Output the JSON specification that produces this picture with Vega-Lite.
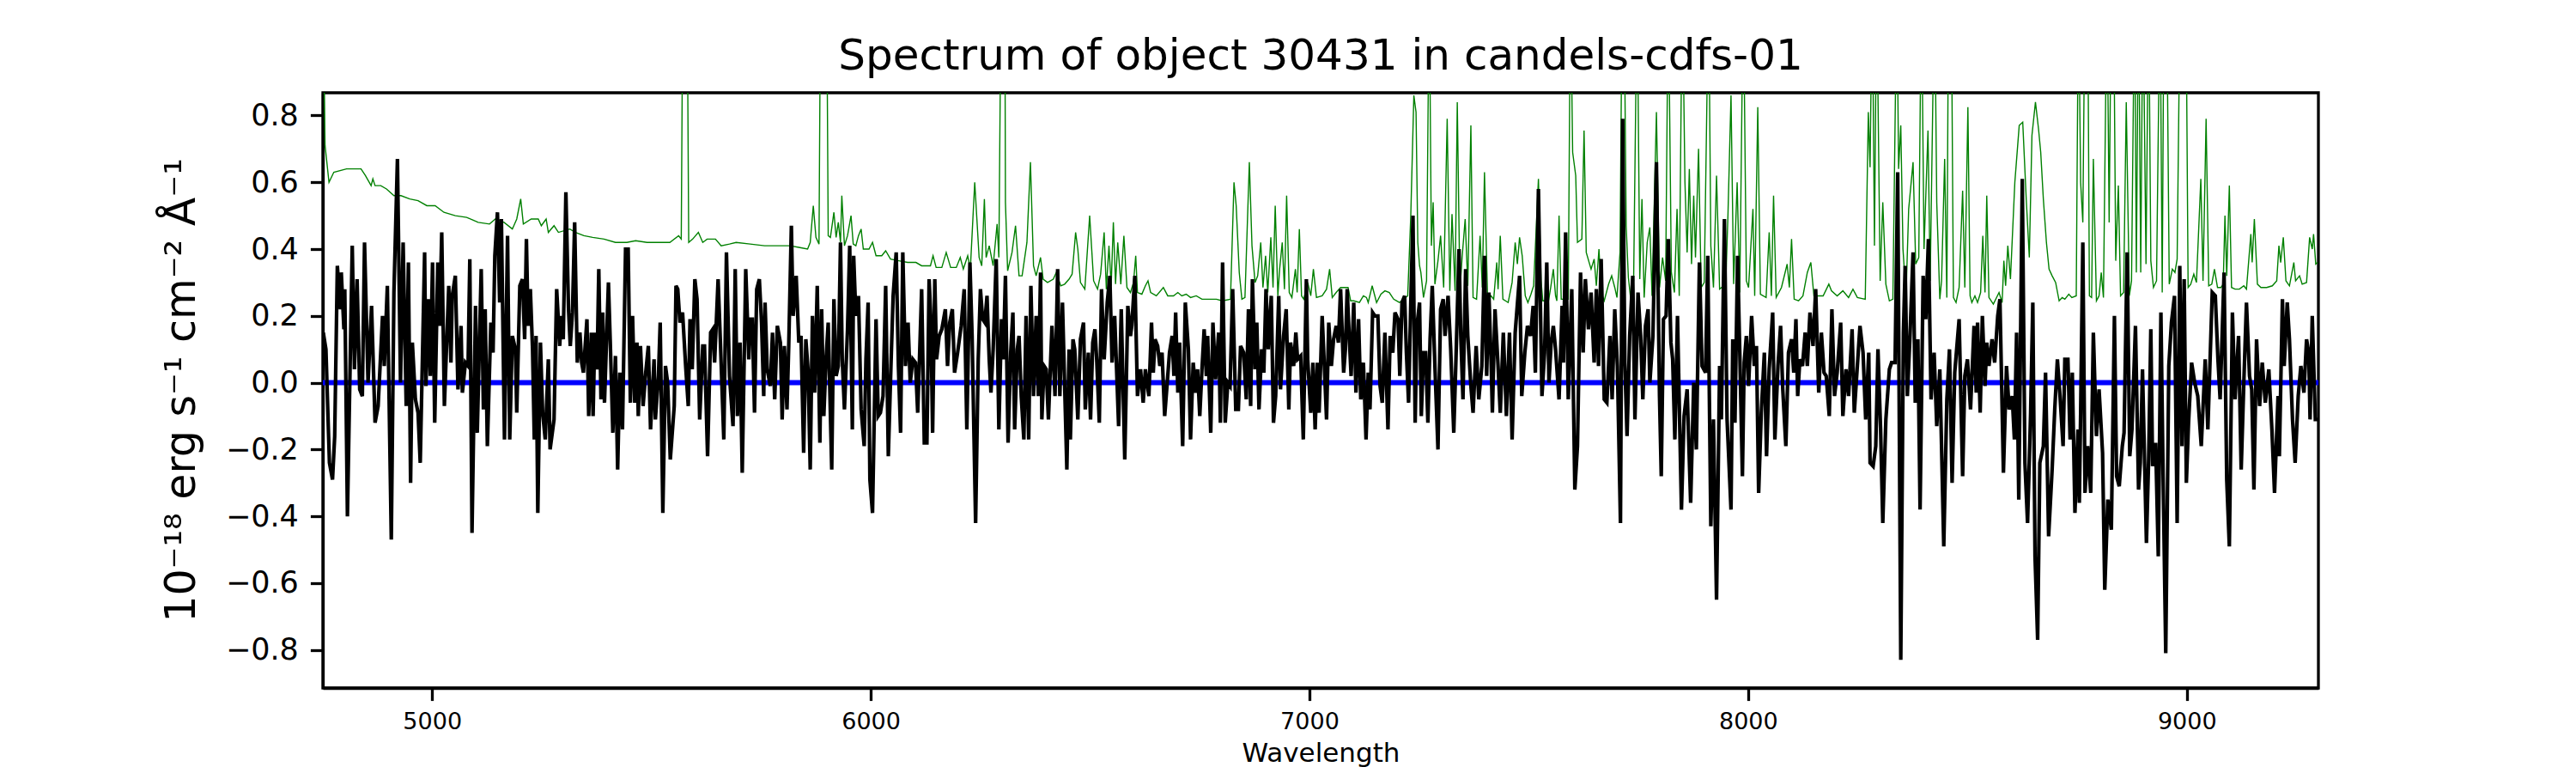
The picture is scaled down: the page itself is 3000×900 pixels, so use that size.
{
  "$schema": "https://vega.github.io/schema/vega-lite/v6.json",
  "autosize": {"type": "none"},
  "padding": {"left": 376, "top": 108, "right": 300, "bottom": 99},
  "width": 2324,
  "height": 693,
  "background": "white",
  "title": {
    "text": "Spectrum of object 30431 in candels-cdfs-01",
    "font": "DejaVu Sans",
    "fontSize": 50,
    "fontWeight": "normal",
    "color": "black",
    "anchor": "middle",
    "baseline": "alphabetic",
    "offset": 25,
    "dy": 48
  },
  "datasets": {
    "flux": [
      {"w":4752,"v":0.15},{"w":4758,"v":0.10},{"w":4766,"v":-0.24},{"w":4773,"v":-0.29},{"w":4778,"v":-0.16},{"w":4784,"v":0.35},{"w":4791,"v":0.22},{"w":4793,"v":0.33},{"w":4799,"v":0.16},{"w":4801,"v":0.28},
      {"w":4807,"v":-0.40},{"w":4818,"v":0.41},{"w":4823,"v":0.04},{"w":4829,"v":0.31},{"w":4835,"v":-0.02},{"w":4841,"v":-0.04},{"w":4846,"v":0.42},{"w":4854,"v":0.0},{"w":4862,"v":0.23},{"w":4870,"v":-0.12},
      {"w":4877,"v":-0.07},{"w":4887,"v":0.20},{"w":4891,"v":0.05},{"w":4898,"v":0.29},{"w":4907,"v":-0.47},{"w":4913,"v":0.27},{"w":4921,"v":0.67},{"w":4928,"v":0.0},{"w":4934,"v":0.42},{"w":4941,"v":-0.07},
      {"w":4946,"v":0.36},{"w":4951,"v":-0.30},{"w":4955,"v":0.12},{"w":4962,"v":-0.05},{"w":4968,"v":-0.09},{"w":4973,"v":-0.24},{"w":4983,"v":0.39},{"w":4986,"v":-0.01},{"w":4991,"v":0.25},{"w":4996,"v":0.02},
      {"w":5001,"v":0.36},{"w":5006,"v":-0.12},{"w":5013,"v":0.36},{"w":5017,"v":0.17},{"w":5022,"v":0.45},{"w":5028,"v":-0.07},{"w":5038,"v":0.29},{"w":5043,"v":0.06},{"w":5046,"v":0.26},{"w":5053,"v":0.32},
      {"w":5059,"v":-0.02},{"w":5066,"v":0.17},{"w":5069,"v":-0.03},{"w":5076,"v":0.06},{"w":5082,"v":0.05},{"w":5086,"v":0.37},{"w":5091,"v":-0.45},{"w":5099,"v":0.23},{"w":5103,"v":-0.15},{"w":5112,"v":0.34},
      {"w":5117,"v":-0.08},{"w":5121,"v":0.22},{"w":5126,"v":-0.19},{"w":5134,"v":0.18},{"w":5139,"v":0.09},{"w":5143,"v":0.38},{"w":5149,"v":0.51},{"w":5154,"v":0.24},{"w":5158,"v":0.49},{"w":5165,"v":-0.17},
      {"w":5172,"v":0.44},{"w":5177,"v":-0.17},{"w":5183,"v":0.14},{"w":5190,"v":0.10},{"w":5193,"v":-0.09},{"w":5200,"v":0.29},{"w":5206,"v":0.31},{"w":5211,"v":0.13},{"w":5215,"v":0.43},{"w":5219,"v":0.17},
      {"w":5224,"v":0.28},{"w":5229,"v":0.10},{"w":5233,"v":-0.17},{"w":5237,"v":0.14},{"w":5241,"v":-0.39},{"w":5247,"v":0.12},{"w":5252,"v":-0.09},{"w":5258,"v":-0.17},{"w":5265,"v":0.07},{"w":5269,"v":-0.20},
      {"w":5278,"v":-0.11},{"w":5284,"v":0.28},{"w":5291,"v":0.11},{"w":5294,"v":0.20},{"w":5299,"v":0.13},{"w":5305,"v":0.57},{"w":5311,"v":0.22},{"w":5315,"v":0.11},{"w":5320,"v":0.21},{"w":5325,"v":0.48},
      {"w":5331,"v":0.06},{"w":5337,"v":0.15},{"w":5341,"v":0.06},{"w":5345,"v":0.03},{"w":5353,"v":0.19},{"w":5357,"v":-0.10},{"w":5363,"v":0.15},{"w":5367,"v":-0.10},{"w":5371,"v":0.15},{"w":5376,"v":0.04},
      {"w":5380,"v":0.34},{"w":5385,"v":-0.05},{"w":5389,"v":0.21},{"w":5393,"v":-0.06},{"w":5402,"v":0.30},{"w":5406,"v":0.13},{"w":5412,"v":-0.15},{"w":5418,"v":0.08},{"w":5423,"v":-0.26},{"w":5428,"v":0.03},
      {"w":5434,"v":-0.14},{"w":5441,"v":0.40},{"w":5447,"v":0.40},{"w":5452,"v":-0.06},{"w":5457,"v":0.20},{"w":5462,"v":-0.06},{"w":5467,"v":0.12},{"w":5470,"v":-0.10},{"w":5475,"v":0.11},{"w":5481,"v":-0.07},
      {"w":5487,"v":0.03},{"w":5493,"v":0.11},{"w":5498,"v":-0.14},{"w":5506,"v":0.07},{"w":5509,"v":-0.11},{"w":5516,"v":0.02},{"w":5520,"v":0.18},{"w":5526,"v":-0.39},{"w":5532,"v":0.05},{"w":5537,"v":0.0},
      {"w":5543,"v":-0.23},{"w":5552,"v":-0.07},{"w":5556,"v":0.29},{"w":5560,"v":0.28},{"w":5565,"v":0.18},{"w":5571,"v":0.21},{"w":5578,"v":0.05},{"w":5584,"v":-0.07},{"w":5588,"v":0.19},{"w":5593,"v":0.04},
      {"w":5599,"v":0.31},{"w":5604,"v":0.25},{"w":5610,"v":-0.11},{"w":5617,"v":0.11},{"w":5621,"v":0.11},{"w":5628,"v":-0.22},{"w":5635,"v":0.15},{"w":5640,"v":0.16},{"w":5644,"v":0.06},{"w":5652,"v":0.31},
      {"w":5657,"v":0.13},{"w":5665,"v":-0.17},{"w":5671,"v":0.39},{"w":5678,"v":0.02},{"w":5686,"v":-0.13},{"w":5691,"v":0.34},{"w":5696,"v":-0.10},{"w":5702,"v":0.12},{"w":5707,"v":-0.27},{"w":5715,"v":0.34},
      {"w":5722,"v":0.07},{"w":5725,"v":0.19},{"w":5730,"v":0.19},{"w":5735,"v":-0.09},{"w":5740,"v":0.28},{"w":5746,"v":0.31},{"w":5751,"v":0.18},{"w":5756,"v":-0.04},{"w":5759,"v":0.24},{"w":5764,"v":0.04},
      {"w":5771,"v":-0.01},{"w":5776,"v":0.15},{"w":5781,"v":-0.05},{"w":5787,"v":0.17},{"w":5794,"v":0.12},{"w":5798,"v":-0.11},{"w":5803,"v":0.11},{"w":5809,"v":-0.08},{"w":5813,"v":0.11},{"w":5819,"v":0.47},
      {"w":5823,"v":0.20},{"w":5830,"v":0.32},{"w":5836,"v":0.12},{"w":5841,"v":0.14},{"w":5847,"v":-0.21},{"w":5852,"v":0.13},{"w":5857,"v":0.04},{"w":5862,"v":-0.26},{"w":5867,"v":0.20},{"w":5872,"v":-0.03},
      {"w":5878,"v":0.29},{"w":5884,"v":-0.18},{"w":5888,"v":0.22},{"w":5893,"v":-0.10},{"w":5898,"v":0.07},{"w":5903,"v":0.18},{"w":5911,"v":-0.26},{"w":5916,"v":0.25},{"w":5921,"v":0.02},{"w":5926,"v":0.05},
      {"w":5931,"v":0.42},{"w":5935,"v":0.07},{"w":5940,"v":-0.08},{"w":5947,"v":0.16},{"w":5952,"v":0.41},{"w":5958,"v":-0.14},{"w":5961,"v":0.38},{"w":5966,"v":0.20},{"w":5972,"v":0.26},{"w":5978,"v":-0.08},
      {"w":5985,"v":-0.19},{"w":5989,"v":0.07},{"w":5994,"v":0.24},{"w":5998,"v":-0.29},{"w":6004,"v":-0.39},{"w":6012,"v":0.19},{"w":6017,"v":-0.10},{"w":6022,"v":-0.09},{"w":6028,"v":-0.04},{"w":6034,"v":0.29},
      {"w":6040,"v":-0.22},{"w":6046,"v":0.05},{"w":6051,"v":0.26},{"w":6058,"v":0.39},{"w":6063,"v":0.05},{"w":6068,"v":-0.15},{"w":6073,"v":0.39},{"w":6079,"v":0.05},{"w":6085,"v":0.18},{"w":6090,"v":0.0},
      {"w":6096,"v":0.07},{"w":6102,"v":0.06},{"w":6107,"v":-0.09},{"w":6111,"v":0.07},{"w":6116,"v":0.28},{"w":6122,"v":-0.18},{"w":6128,"v":-0.18},{"w":6133,"v":0.31},{"w":6137,"v":0.19},{"w":6141,"v":-0.15},
      {"w":6146,"v":0.31},{"w":6150,"v":0.07},{"w":6156,"v":0.14},{"w":6162,"v":0.16},{"w":6170,"v":0.22},{"w":6175,"v":0.05},{"w":6180,"v":0.18},{"w":6186,"v":0.22},{"w":6191,"v":0.03},{"w":6198,"v":0.09},
      {"w":6206,"v":0.17},{"w":6213,"v":0.28},{"w":6219,"v":-0.14},{"w":6226,"v":0.36},{"w":6231,"v":0.14},{"w":6239,"v":-0.42},{"w":6245,"v":0.07},{"w":6250,"v":0.28},{"w":6255,"v":0.19},{"w":6260,"v":0.18},
      {"w":6265,"v":0.26},{"w":6270,"v":0.07},{"w":6274,"v":-0.03},{"w":6279,"v":0.10},{"w":6286,"v":0.37},{"w":6292,"v":-0.14},{"w":6298,"v":0.19},{"w":6302,"v":0.07},{"w":6307,"v":0.32},{"w":6313,"v":-0.18},
      {"w":6319,"v":0.09},{"w":6324,"v":0.21},{"w":6328,"v":-0.14},{"w":6334,"v":0.10},{"w":6338,"v":0.14},{"w":6343,"v":-0.04},{"w":6349,"v":-0.17},{"w":6354,"v":0.20},{"w":6360,"v":-0.17},{"w":6365,"v":0.29},
      {"w":6371,"v":-0.04},{"w":6377,"v":0.20},{"w":6382,"v":-0.04},{"w":6387,"v":0.33},{"w":6390,"v":-0.11},{"w":6395,"v":0.05},{"w":6400,"v":0.04},{"w":6405,"v":-0.11},{"w":6413,"v":0.17},{"w":6420,"v":-0.04},
      {"w":6426,"v":0.34},{"w":6431,"v":-0.04},{"w":6437,"v":0.24},{"w":6442,"v":-0.01},{"w":6447,"v":-0.26},{"w":6452,"v":0.10},{"w":6455,"v":-0.17},{"w":6461,"v":0.13},{"w":6465,"v":0.10},{"w":6472,"v":-0.11},
      {"w":6478,"v":0.13},{"w":6485,"v":0.18},{"w":6489,"v":-0.08},{"w":6496,"v":0.09},{"w":6501,"v":-0.11},{"w":6506,"v":0.12},{"w":6511,"v":0.16},{"w":6515,"v":0.07},{"w":6521,"v":-0.12},{"w":6526,"v":0.28},
      {"w":6532,"v":0.07},{"w":6539,"v":0.24},{"w":6545,"v":0.32},{"w":6550,"v":0.06},{"w":6556,"v":0.20},{"w":6565,"v":-0.13},{"w":6571,"v":0.22},{"w":6579,"v":-0.23},{"w":6586,"v":0.23},{"w":6592,"v":0.14},
      {"w":6595,"v":0.17},{"w":6602,"v":0.32},{"w":6608,"v":-0.04},{"w":6615,"v":0.04},{"w":6621,"v":-0.06},{"w":6626,"v":0.04},{"w":6634,"v":-0.04},{"w":6640,"v":0.18},{"w":6644,"v":0.03},{"w":6648,"v":0.13},
      {"w":6654,"v":0.11},{"w":6659,"v":0.05},{"w":6664,"v":0.09},{"w":6670,"v":-0.10},{"w":6677,"v":0.02},{"w":6681,"v":0.09},{"w":6687,"v":0.14},{"w":6691,"v":0.02},{"w":6695,"v":0.21},{"w":6700,"v":-0.03},
      {"w":6704,"v":0.12},{"w":6711,"v":-0.19},{"w":6717,"v":0.24},{"w":6724,"v":0.10},{"w":6729,"v":-0.17},{"w":6735,"v":0.06},{"w":6741,"v":-0.03},{"w":6745,"v":0.04},{"w":6750,"v":-0.10},{"w":6755,"v":0.04},
      {"w":6760,"v":0.16},{"w":6765,"v":0.02},{"w":6768,"v":0.14},{"w":6775,"v":-0.15},{"w":6780,"v":0.18},{"w":6786,"v":0.01},{"w":6793,"v":0.15},{"w":6797,"v":-0.12},{"w":6802,"v":0.36},{"w":6808,"v":-0.12},
      {"w":6814,"v":0.0},{"w":6819,"v":-0.01},{"w":6825,"v":0.28},{"w":6832,"v":-0.08},{"w":6838,"v":-0.08},{"w":6843,"v":0.11},{"w":6850,"v":0.09},{"w":6856,"v":-0.05},{"w":6861,"v":0.22},{"w":6866,"v":-0.07},
      {"w":6870,"v":0.31},{"w":6876,"v":0.04},{"w":6880,"v":0.18},{"w":6885,"v":-0.08},{"w":6891,"v":0.10},{"w":6896,"v":0.03},{"w":6901,"v":0.28},{"w":6906,"v":0.10},{"w":6913,"v":0.26},{"w":6918,"v":-0.12},
      {"w":6923,"v":-0.04},{"w":6930,"v":0.26},{"w":6934,"v":-0.02},{"w":6941,"v":0.14},{"w":6947,"v":0.22},{"w":6953,"v":-0.08},{"w":6957,"v":0.12},{"w":6964,"v":0.05},{"w":6969,"v":0.15},{"w":6973,"v":0.07},
      {"w":6980,"v":0.08},{"w":6986,"v":-0.17},{"w":6993,"v":0.31},{"w":6996,"v":0.07},{"w":7003,"v":-0.09},{"w":7008,"v":0.06},{"w":7013,"v":-0.14},{"w":7018,"v":0.06},{"w":7022,"v":-0.09},{"w":7029,"v":0.20},
      {"w":7034,"v":0.05},{"w":7039,"v":-0.11},{"w":7044,"v":0.18},{"w":7050,"v":0.05},{"w":7055,"v":0.13},{"w":7061,"v":0.17},{"w":7066,"v":0.12},{"w":7071,"v":0.28},{"w":7078,"v":0.03},{"w":7082,"v":0.10},
      {"w":7086,"v":0.28},{"w":7091,"v":0.13},{"w":7095,"v":0.02},{"w":7101,"v":0.24},{"w":7106,"v":-0.03},{"w":7112,"v":0.19},{"w":7117,"v":-0.05},{"w":7123,"v":0.06},{"w":7129,"v":-0.17},{"w":7134,"v":0.03},
      {"w":7138,"v":-0.08},{"w":7144,"v":0.21},{"w":7149,"v":0.20},{"w":7156,"v":0.20},{"w":7161,"v":-0.01},{"w":7166,"v":-0.06},{"w":7172,"v":0.15},{"w":7179,"v":-0.14},{"w":7184,"v":0.14},{"w":7190,"v":0.09},
      {"w":7195,"v":0.21},{"w":7202,"v":0.19},{"w":7206,"v":0.02},{"w":7211,"v":0.24},{"w":7217,"v":0.26},{"w":7221,"v":0.09},{"w":7226,"v":-0.06},{"w":7231,"v":0.24},{"w":7236,"v":0.50},{"w":7241,"v":-0.12},
      {"w":7245,"v":0.17},{"w":7251,"v":0.24},{"w":7255,"v":-0.10},{"w":7260,"v":0.09},{"w":7265,"v":0.09},{"w":7270,"v":-0.12},{"w":7275,"v":0.13},{"w":7280,"v":0.29},{"w":7286,"v":0.05},{"w":7293,"v":-0.20},
      {"w":7299,"v":0.22},{"w":7305,"v":0.25},{"w":7309,"v":0.14},{"w":7316,"v":0.26},{"w":7322,"v":0.10},{"w":7329,"v":-0.15},{"w":7334,"v":0.07},{"w":7341,"v":0.40},{"w":7345,"v":0.14},{"w":7350,"v":-0.05},
      {"w":7356,"v":0.34},{"w":7361,"v":0.14},{"w":7368,"v":-0.01},{"w":7373,"v":-0.09},{"w":7380,"v":0.11},{"w":7386,"v":-0.05},{"w":7393,"v":0.05},{"w":7399,"v":0.38},{"w":7404,"v":0.02},{"w":7409,"v":0.27},
      {"w":7414,"v":0.07},{"w":7417,"v":-0.09},{"w":7423,"v":0.22},{"w":7430,"v":0.05},{"w":7435,"v":-0.09},{"w":7442,"v":0.15},{"w":7449,"v":-0.10},{"w":7456,"v":0.15},{"w":7462,"v":-0.17},{"w":7469,"v":0.15},
      {"w":7479,"v":0.32},{"w":7484,"v":-0.04},{"w":7491,"v":0.09},{"w":7497,"v":0.17},{"w":7504,"v":0.14},{"w":7510,"v":0.23},{"w":7515,"v":0.03},{"w":7522,"v":0.58},{"w":7530,"v":-0.04},{"w":7536,"v":0.09},
      {"w":7541,"v":0.36},{"w":7546,"v":0.0},{"w":7551,"v":0.12},{"w":7556,"v":0.17},{"w":7561,"v":0.10},{"w":7569,"v":-0.05},{"w":7576,"v":0.23},{"w":7579,"v":0.06},{"w":7584,"v":0.45},{"w":7590,"v":-0.05},
      {"w":7598,"v":0.28},{"w":7605,"v":-0.32},{"w":7611,"v":-0.19},{"w":7618,"v":0.33},{"w":7624,"v":0.09},{"w":7629,"v":0.31},{"w":7636,"v":0.16},{"w":7642,"v":0.27},{"w":7649,"v":0.06},{"w":7654,"v":0.28},
      {"w":7659,"v":0.05},{"w":7665,"v":0.37},{"w":7672,"v":-0.05},{"w":7678,"v":-0.06},{"w":7685,"v":0.14},{"w":7690,"v":-0.05},{"w":7696,"v":0.22},{"w":7702,"v":0.05},{"w":7709,"v":-0.42},{"w":7714,"v":0.79},
      {"w":7719,"v":0.06},{"w":7724,"v":-0.16},{"w":7730,"v":0.14},{"w":7737,"v":0.32},{"w":7742,"v":-0.11},{"w":7749,"v":0.27},{"w":7755,"v":0.14},{"w":7760,"v":-0.05},{"w":7766,"v":0.17},{"w":7772,"v":0.22},
      {"w":7776,"v":0.0},{"w":7783,"v":0.14},{"w":7791,"v":0.66},{"w":7798,"v":-0.04},{"w":7802,"v":-0.28},{"w":7807,"v":0.19},{"w":7813,"v":0.20},{"w":7818,"v":0.43},{"w":7824,"v":0.12},{"w":7828,"v":0.07},
      {"w":7833,"v":-0.17},{"w":7839,"v":0.20},{"w":7848,"v":-0.38},{"w":7854,"v":-0.10},{"w":7861,"v":-0.02},{"w":7869,"v":-0.36},{"w":7876,"v":0.0},{"w":7882,"v":-0.20},{"w":7889,"v":0.36},{"w":7895,"v":0.05},
      {"w":7903,"v":0.03},{"w":7908,"v":0.38},{"w":7915,"v":-0.43},{"w":7921,"v":-0.11},{"w":7928,"v":-0.65},{"w":7935,"v":0.05},{"w":7939,"v":-0.11},{"w":7946,"v":0.49},{"w":7952,"v":-0.11},{"w":7961,"v":-0.38},
      {"w":7965,"v":0.13},{"w":7970,"v":-0.12},{"w":7976,"v":0.38},{"w":7981,"v":0.09},{"w":7987,"v":-0.28},{"w":7991,"v":0.06},{"w":7996,"v":0.14},{"w":8001,"v":-0.01},{"w":8008,"v":0.20},{"w":8014,"v":0.05},
      {"w":8019,"v":0.11},{"w":8024,"v":-0.33},{"w":8030,"v":-0.09},{"w":8037,"v":0.09},{"w":8042,"v":-0.22},{"w":8048,"v":0.04},{"w":8056,"v":0.21},{"w":8061,"v":-0.17},{"w":8068,"v":0.05},{"w":8074,"v":0.17},
      {"w":8079,"v":-0.02},{"w":8086,"v":-0.19},{"w":8092,"v":0.09},{"w":8099,"v":0.13},{"w":8104,"v":0.03},{"w":8109,"v":0.19},{"w":8113,"v":-0.04},{"w":8118,"v":0.07},{"w":8124,"v":0.05},{"w":8130,"v":0.15},
      {"w":8135,"v":0.05},{"w":8141,"v":0.21},{"w":8148,"v":0.11},{"w":8154,"v":0.28},{"w":8161,"v":-0.03},{"w":8167,"v":0.15},{"w":8173,"v":0.03},{"w":8178,"v":0.02},{"w":8185,"v":-0.10},{"w":8191,"v":0.22},
      {"w":8197,"v":-0.04},{"w":8203,"v":0.03},{"w":8211,"v":0.18},{"w":8216,"v":-0.10},{"w":8223,"v":0.04},{"w":8229,"v":-0.04},{"w":8237,"v":0.16},{"w":8242,"v":-0.09},{"w":8249,"v":0.05},{"w":8255,"v":0.17},
      {"w":8262,"v":0.09},{"w":8268,"v":-0.11},{"w":8275,"v":0.09},{"w":8278,"v":-0.24},{"w":8285,"v":-0.25},{"w":8291,"v":-0.19},{"w":8296,"v":0.10},{"w":8302,"v":-0.14},{"w":8307,"v":-0.42},{"w":8314,"v":-0.11},
      {"w":8322,"v":0.04},{"w":8327,"v":0.06},{"w":8335,"v":0.06},{"w":8341,"v":0.63},{"w":8348,"v":-0.83},{"w":8354,"v":0.15},{"w":8358,"v":0.35},{"w":8363,"v":-0.04},{"w":8369,"v":0.14},{"w":8376,"v":0.39},
      {"w":8381,"v":-0.06},{"w":8387,"v":0.13},{"w":8392,"v":-0.38},{"w":8399,"v":0.32},{"w":8405,"v":0.19},{"w":8411,"v":0.43},{"w":8417,"v":-0.05},{"w":8424,"v":0.09},{"w":8430,"v":-0.13},{"w":8437,"v":0.04},
      {"w":8446,"v":-0.49},{"w":8453,"v":-0.05},{"w":8459,"v":0.10},{"w":8465,"v":-0.30},{"w":8471,"v":0.03},{"w":8481,"v":0.19},{"w":8489,"v":-0.28},{"w":8494,"v":0.02},{"w":8500,"v":0.07},{"w":8507,"v":-0.08},
      {"w":8515,"v":0.17},{"w":8520,"v":-0.03},{"w":8523,"v":0.18},{"w":8529,"v":-0.09},{"w":8534,"v":0.20},{"w":8540,"v":-0.01},{"w":8544,"v":0.12},{"w":8549,"v":0.05},{"w":8556,"v":0.13},{"w":8562,"v":0.06},
      {"w":8569,"v":0.20},{"w":8574,"v":0.25},{"w":8582,"v":-0.27},{"w":8589,"v":0.05},{"w":8595,"v":-0.08},{"w":8602,"v":-0.04},{"w":8607,"v":-0.17},{"w":8612,"v":0.15},{"w":8617,"v":-0.35},{"w":8625,"v":0.61},
      {"w":8631,"v":-0.24},{"w":8637,"v":-0.42},{"w":8644,"v":-0.09},{"w":8649,"v":0.24},{"w":8654,"v":-0.52},{"w":8660,"v":-0.77},{"w":8665,"v":-0.24},{"w":8673,"v":-0.19},{"w":8678,"v":0.03},{"w":8685,"v":-0.46},
      {"w":8693,"v":-0.26},{"w":8699,"v":-0.08},{"w":8705,"v":0.07},{"w":8711,"v":-0.04},{"w":8718,"v":-0.19},{"w":8722,"v":0.07},{"w":8729,"v":0.07},{"w":8734,"v":-0.17},{"w":8739,"v":0.03},{"w":8745,"v":-0.39},
      {"w":8752,"v":-0.14},{"w":8755,"v":-0.36},{"w":8758,"v":-0.09},{"w":8763,"v":0.42},{"w":8768,"v":-0.33},{"w":8774,"v":-0.19},{"w":8781,"v":-0.33},{"w":8787,"v":0.15},{"w":8794,"v":-0.16},{"w":8800,"v":-0.02},
      {"w":8808,"v":-0.21},{"w":8813,"v":-0.62},{"w":8820,"v":-0.35},{"w":8828,"v":-0.44},{"w":8835,"v":0.20},{"w":8840,"v":-0.28},{"w":8846,"v":-0.31},{"w":8853,"v":-0.19},{"w":8857,"v":-0.15},{"w":8864,"v":0.39},
      {"w":8870,"v":-0.22},{"w":8875,"v":-0.14},{"w":8883,"v":0.17},{"w":8890,"v":-0.32},{"w":8894,"v":-0.24},{"w":8899,"v":0.04},{"w":8908,"v":-0.48},{"w":8913,"v":-0.23},{"w":8918,"v":0.16},{"w":8922,"v":-0.25},
      {"w":8929,"v":-0.18},{"w":8935,"v":-0.52},{"w":8941,"v":0.21},{"w":8946,"v":-0.28},{"w":8952,"v":-0.81},{"w":8959,"v":0.05},{"w":8965,"v":0.18},{"w":8972,"v":0.26},{"w":8978,"v":-0.42},{"w":8984,"v":0.35},
      {"w":8989,"v":-0.19},{"w":8994,"v":0.31},{"w":8999,"v":-0.30},{"w":9004,"v":-0.12},{"w":9011,"v":0.06},{"w":9018,"v":0.0},{"w":9025,"v":-0.04},{"w":9033,"v":-0.19},{"w":9042,"v":0.07},{"w":9048,"v":-0.14},
      {"w":9058,"v":0.27},{"w":9065,"v":0.26},{"w":9071,"v":0.07},{"w":9076,"v":-0.05},{"w":9085,"v":0.33},{"w":9091,"v":-0.29},{"w":9097,"v":-0.49},{"w":9104,"v":0.21},{"w":9110,"v":-0.05},{"w":9118,"v":0.14},
      {"w":9124,"v":-0.26},{"w":9130,"v":0.0},{"w":9136,"v":0.24},{"w":9143,"v":0.02},{"w":9148,"v":-0.02},{"w":9153,"v":-0.32},{"w":9159,"v":0.13},{"w":9166,"v":-0.07},{"w":9172,"v":0.06},{"w":9179,"v":-0.06},
      {"w":9187,"v":0.04},{"w":9194,"v":-0.14},{"w":9200,"v":-0.33},{"w":9208,"v":-0.04},{"w":9211,"v":-0.22},{"w":9218,"v":0.25},{"w":9222,"v":0.05},{"w":9229,"v":0.24},{"w":9234,"v":0.13},{"w":9241,"v":-0.11},
      {"w":9247,"v":-0.24},{"w":9254,"v":-0.04},{"w":9260,"v":0.05},{"w":9267,"v":-0.03},{"w":9273,"v":0.13},{"w":9278,"v":0.09},{"w":9281,"v":-0.11},{"w":9286,"v":0.20},{"w":9293,"v":-0.11},{"w":9298,"v":-0.11}
    ],
    "err": [
      {"w":4751,"v":1.2},{"w":4756,"v":0.71},{"w":4765,"v":0.60},{"w":4776,"v":0.63},{"w":4805,"v":0.64},{"w":4821,"v":0.64},{"w":4838,"v":0.64},{"w":4848,"v":0.62},{"w":4861,"v":0.59},{"w":4865,"v":0.61},
      {"w":4870,"v":0.59},{"w":4883,"v":0.59},{"w":4896,"v":0.58},{"w":4913,"v":0.56},{"w":4929,"v":0.56},{"w":4949,"v":0.55},{"w":4968,"v":0.545},{"w":4988,"v":0.53},{"w":5007,"v":0.53},{"w":5027,"v":0.51},
      {"w":5053,"v":0.50},{"w":5079,"v":0.495},{"w":5105,"v":0.48},{"w":5131,"v":0.475},{"w":5144,"v":0.49},{"w":5164,"v":0.48},{"w":5183,"v":0.46},{"w":5193,"v":0.49},{"w":5202,"v":0.55},{"w":5208,"v":0.475},
      {"w":5226,"v":0.49},{"w":5242,"v":0.49},{"w":5249,"v":0.47},{"w":5260,"v":0.49},{"w":5265,"v":0.45},{"w":5278,"v":0.47},{"w":5288,"v":0.45},{"w":5314,"v":0.46},{"w":5327,"v":0.45},{"w":5346,"v":0.44},
      {"w":5366,"v":0.435},{"w":5392,"v":0.43},{"w":5418,"v":0.42},{"w":5444,"v":0.42},{"w":5464,"v":0.425},{"w":5490,"v":0.42},{"w":5522,"v":0.42},{"w":5542,"v":0.42},{"w":5562,"v":0.44},{"w":5568,"v":0.43},
      {"w":5573,"v":1.5},{"w":5580,"v":1.5},{"w":5585,"v":0.42},{"w":5594,"v":0.43},{"w":5607,"v":0.45},{"w":5617,"v":0.42},{"w":5627,"v":0.43},{"w":5646,"v":0.43},{"w":5659,"v":0.41},{"w":5678,"v":0.415},
      {"w":5693,"v":0.42},{"w":5725,"v":0.415},{"w":5758,"v":0.41},{"w":5790,"v":0.41},{"w":5816,"v":0.41},{"w":5836,"v":0.405},{"w":5856,"v":0.40},{"w":5862,"v":0.42},{"w":5869,"v":0.53},{"w":5875,"v":0.435},
      {"w":5882,"v":0.415},{"w":5887,"v":1.5},{"w":5898,"v":1.5},{"w":5903,"v":0.44},{"w":5908,"v":0.435},{"w":5916,"v":0.51},{"w":5921,"v":0.435},{"w":5926,"v":0.48},{"w":5931,"v":0.42},{"w":5934,"v":0.56},
      {"w":5940,"v":0.41},{"w":5947,"v":0.44},{"w":5955,"v":0.50},{"w":5960,"v":0.415},{"w":5966,"v":0.41},{"w":5972,"v":0.44},{"w":5978,"v":0.46},{"w":5983,"v":0.40},{"w":5996,"v":0.40},{"w":6004,"v":0.42},
      {"w":6012,"v":0.38},{"w":6025,"v":0.38},{"w":6034,"v":0.395},{"w":6045,"v":0.37},{"w":6064,"v":0.365},{"w":6084,"v":0.36},{"w":6103,"v":0.36},{"w":6116,"v":0.35},{"w":6136,"v":0.35},{"w":6142,"v":0.38},
      {"w":6149,"v":0.345},{"w":6162,"v":0.345},{"w":6172,"v":0.39},{"w":6182,"v":0.345},{"w":6195,"v":0.345},{"w":6204,"v":0.375},{"w":6211,"v":0.34},{"w":6221,"v":0.38},{"w":6227,"v":0.34},{"w":6237,"v":0.60},
      {"w":6247,"v":0.375},{"w":6253,"v":0.35},{"w":6259,"v":0.55},{"w":6263,"v":0.375},{"w":6270,"v":0.41},{"w":6279,"v":0.35},{"w":6288,"v":0.475},{"w":6292,"v":0.375},{"w":6299,"v":1.5},{"w":6305,"v":1.5},
      {"w":6307,"v":0.54},{"w":6312,"v":0.335},{"w":6322,"v":0.39},{"w":6330,"v":0.47},{"w":6338,"v":0.32},{"w":6345,"v":0.32},{"w":6356,"v":0.42},{"w":6364,"v":0.66},{"w":6371,"v":0.35},{"w":6377,"v":0.32},
      {"w":6387,"v":0.375},{"w":6393,"v":0.31},{"w":6403,"v":0.30},{"w":6416,"v":0.31},{"w":6423,"v":0.33},{"w":6433,"v":0.29},{"w":6442,"v":0.295},{"w":6452,"v":0.31},{"w":6459,"v":0.325},{"w":6467,"v":0.45},
      {"w":6472,"v":0.40},{"w":6478,"v":0.30},{"w":6488,"v":0.28},{"w":6499,"v":0.50},{"w":6508,"v":0.305},{"w":6517,"v":0.28},{"w":6524,"v":0.325},{"w":6532,"v":0.45},{"w":6537,"v":0.28},{"w":6543,"v":0.41},
      {"w":6548,"v":0.29},{"w":6553,"v":0.48},{"w":6558,"v":0.295},{"w":6563,"v":0.42},{"w":6570,"v":0.295},{"w":6577,"v":0.44},{"w":6584,"v":0.285},{"w":6592,"v":0.27},{"w":6599,"v":0.30},{"w":6604,"v":0.38},
      {"w":6608,"v":0.27},{"w":6618,"v":0.265},{"w":6626,"v":0.29},{"w":6632,"v":0.305},{"w":6638,"v":0.27},{"w":6651,"v":0.26},{"w":6667,"v":0.285},{"w":6677,"v":0.26},{"w":6690,"v":0.26},{"w":6700,"v":0.27},
      {"w":6709,"v":0.26},{"w":6719,"v":0.265},{"w":6729,"v":0.255},{"w":6742,"v":0.26},{"w":6755,"v":0.25},{"w":6775,"v":0.25},{"w":6788,"v":0.25},{"w":6801,"v":0.245},{"w":6820,"v":0.25},{"w":6828,"v":0.60},
      {"w":6833,"v":0.53},{"w":6840,"v":0.33},{"w":6846,"v":0.25},{"w":6853,"v":0.255},{"w":6863,"v":0.66},{"w":6869,"v":0.41},{"w":6876,"v":0.30},{"w":6882,"v":0.32},{"w":6889,"v":0.42},{"w":6894,"v":0.285},
      {"w":6900,"v":0.38},{"w":6905,"v":0.27},{"w":6912,"v":0.435},{"w":6917,"v":0.285},{"w":6922,"v":0.53},{"w":6928,"v":0.26},{"w":6932,"v":0.34},{"w":6938,"v":0.42},{"w":6943,"v":0.28},{"w":6948,"v":0.56},
      {"w":6954,"v":0.27},{"w":6960,"v":0.255},{"w":6968,"v":0.34},{"w":6972,"v":0.27},{"w":6977,"v":0.46},{"w":6982,"v":0.26},{"w":6987,"v":0.25},{"w":6996,"v":0.30},{"w":7003,"v":0.26},{"w":7009,"v":0.34},
      {"w":7016,"v":0.255},{"w":7029,"v":0.26},{"w":7039,"v":0.28},{"w":7046,"v":0.34},{"w":7052,"v":0.255},{"w":7061,"v":0.27},{"w":7071,"v":0.285},{"w":7081,"v":0.285},{"w":7088,"v":0.285},{"w":7094,"v":0.245},
      {"w":7101,"v":0.245},{"w":7114,"v":0.24},{"w":7123,"v":0.26},{"w":7130,"v":0.255},{"w":7134,"v":0.24},{"w":7143,"v":0.29},{"w":7153,"v":0.24},{"w":7163,"v":0.265},{"w":7172,"v":0.275},{"w":7182,"v":0.27},
      {"w":7192,"v":0.25},{"w":7205,"v":0.24},{"w":7215,"v":0.25},{"w":7224,"v":0.26},{"w":7231,"v":0.50},{"w":7238,"v":0.86},{"w":7243,"v":0.81},{"w":7247,"v":0.42},{"w":7251,"v":0.35},{"w":7254,"v":0.33},
      {"w":7260,"v":0.255},{"w":7267,"v":0.305},{"w":7273,"v":1.2},{"w":7278,"v":0.41},{"w":7282,"v":0.54},{"w":7286,"v":0.295},{"w":7293,"v":0.365},{"w":7299,"v":0.44},{"w":7306,"v":0.285},{"w":7314,"v":0.79},
      {"w":7320,"v":0.275},{"w":7325,"v":0.505},{"w":7332,"v":0.275},{"w":7337,"v":0.84},{"w":7343,"v":0.275},{"w":7348,"v":0.375},{"w":7355,"v":0.49},{"w":7361,"v":0.29},{"w":7368,"v":0.77},{"w":7373,"v":0.255},
      {"w":7381,"v":0.25},{"w":7389,"v":0.44},{"w":7394,"v":0.285},{"w":7399,"v":0.63},{"w":7406,"v":0.255},{"w":7414,"v":0.26},{"w":7420,"v":0.25},{"w":7427,"v":0.36},{"w":7430,"v":0.28},{"w":7435,"v":0.44},
      {"w":7441,"v":0.25},{"w":7453,"v":0.24},{"w":7462,"v":0.30},{"w":7469,"v":0.42},{"w":7474,"v":0.355},{"w":7479,"v":0.435},{"w":7485,"v":0.38},{"w":7492,"v":0.26},{"w":7498,"v":0.24},{"w":7505,"v":0.265},
      {"w":7511,"v":0.29},{"w":7522,"v":0.61},{"w":7528,"v":0.305},{"w":7532,"v":0.245},{"w":7545,"v":0.245},{"w":7550,"v":0.285},{"w":7556,"v":0.34},{"w":7561,"v":0.26},{"w":7564,"v":0.245},{"w":7569,"v":0.50},
      {"w":7574,"v":0.25},{"w":7590,"v":0.25},{"w":7595,"v":1.2},{"w":7600,"v":0.69},{"w":7607,"v":0.62},{"w":7611,"v":0.42},{"w":7621,"v":0.43},{"w":7626,"v":0.755},{"w":7631,"v":0.39},{"w":7642,"v":0.34},
      {"w":7649,"v":0.37},{"w":7654,"v":0.29},{"w":7660,"v":0.40},{"w":7665,"v":0.27},{"w":7672,"v":0.245},{"w":7682,"v":0.295},{"w":7689,"v":0.32},{"w":7696,"v":0.285},{"w":7701,"v":0.255},{"w":7708,"v":0.39},
      {"w":7713,"v":1.2},{"w":7717,"v":1.2},{"w":7722,"v":0.47},{"w":7727,"v":0.315},{"w":7732,"v":0.255},{"w":7739,"v":0.305},{"w":7747,"v":1.2},{"w":7753,"v":0.31},{"w":7758,"v":0.55},{"w":7763,"v":0.255},
      {"w":7770,"v":0.42},{"w":7776,"v":0.465},{"w":7781,"v":0.26},{"w":7791,"v":0.81},{"w":7798,"v":0.285},{"w":7805,"v":0.375},{"w":7812,"v":0.305},{"w":7818,"v":1.2},{"w":7825,"v":0.33},{"w":7832,"v":0.27},
      {"w":7838,"v":0.52},{"w":7843,"v":0.26},{"w":7850,"v":1.2},{"w":7856,"v":0.60},{"w":7861,"v":0.39},{"w":7866,"v":0.64},{"w":7871,"v":0.355},{"w":7876,"v":0.56},{"w":7880,"v":0.375},{"w":7887,"v":0.70},
      {"w":7893,"v":0.285},{"w":7900,"v":0.30},{"w":7910,"v":1.2},{"w":7915,"v":0.41},{"w":7921,"v":0.285},{"w":7928,"v":0.62},{"w":7935,"v":0.28},{"w":7949,"v":0.295},{"w":7954,"v":0.50},{"w":7961,"v":0.86},
      {"w":7967,"v":0.295},{"w":7975,"v":0.60},{"w":7981,"v":0.27},{"w":7989,"v":1.2},{"w":7996,"v":0.305},{"w":8001,"v":0.285},{"w":8011,"v":0.52},{"w":8015,"v":0.26},{"w":8022,"v":0.825},{"w":8028,"v":0.265},
      {"w":8041,"v":0.255},{"w":8048,"v":0.45},{"w":8053,"v":0.26},{"w":8058,"v":0.56},{"w":8064,"v":0.255},{"w":8076,"v":0.285},{"w":8089,"v":0.355},{"w":8094,"v":0.285},{"w":8099,"v":0.43},{"w":8105,"v":0.25},
      {"w":8115,"v":0.245},{"w":8125,"v":0.26},{"w":8135,"v":0.33},{"w":8143,"v":0.36},{"w":8150,"v":0.26},{"w":8171,"v":0.26},{"w":8184,"v":0.295},{"w":8190,"v":0.275},{"w":8203,"v":0.26},{"w":8216,"v":0.275},
      {"w":8229,"v":0.255},{"w":8239,"v":0.28},{"w":8249,"v":0.255},{"w":8267,"v":0.25},{"w":8274,"v":0.81},{"w":8278,"v":0.645},{"w":8283,"v":1.2},{"w":8288,"v":0.41},{"w":8293,"v":1.2},{"w":8301,"v":0.305},
      {"w":8307,"v":0.54},{"w":8314,"v":0.295},{"w":8322,"v":0.245},{"w":8330,"v":0.25},{"w":8339,"v":1.2},{"w":8343,"v":0.64},{"w":8348,"v":0.77},{"w":8353,"v":0.40},{"w":8360,"v":0.26},{"w":8366,"v":0.52},
      {"w":8376,"v":0.66},{"w":8382,"v":0.355},{"w":8389,"v":0.375},{"w":8395,"v":1.2},{"w":8401,"v":0.40},{"w":8410,"v":0.755},{"w":8415,"v":0.305},{"w":8425,"v":1.2},{"w":8430,"v":0.54},{"w":8437,"v":0.25},
      {"w":8441,"v":0.305},{"w":8448,"v":0.67},{"w":8453,"v":0.255},{"w":8457,"v":1.2},{"w":8463,"v":1.2},{"w":8468,"v":0.255},{"w":8474,"v":0.24},{"w":8481,"v":0.285},{"w":8489,"v":0.575},{"w":8494,"v":0.285},
      {"w":8501,"v":0.825},{"w":8506,"v":0.26},{"w":8510,"v":0.24},{"w":8517,"v":0.26},{"w":8523,"v":0.24},{"w":8530,"v":0.27},{"w":8535,"v":0.44},{"w":8540,"v":0.27},{"w":8544,"v":0.56},{"w":8549,"v":0.255},
      {"w":8559,"v":0.235},{"w":8572,"v":0.27},{"w":8579,"v":0.24},{"w":8583,"v":0.365},{"w":8587,"v":0.29},{"w":8592,"v":0.41},{"w":8598,"v":0.31},{"w":8608,"v":0.60},{"w":8618,"v":0.77},{"w":8626,"v":0.78},
      {"w":8634,"v":0.55},{"w":8641,"v":0.375},{"w":8647,"v":0.74},{"w":8655,"v":0.84},{"w":8662,"v":0.76},{"w":8667,"v":0.69},{"w":8673,"v":0.55},{"w":8680,"v":0.42},{"w":8686,"v":0.34},{"w":8693,"v":0.32},
      {"w":8701,"v":0.30},{"w":8709,"v":0.245},{"w":8716,"v":0.255},{"w":8722,"v":0.25},{"w":8731,"v":0.265},{"w":8738,"v":0.255},{"w":8748,"v":0.26},{"w":8753,"v":1.2},{"w":8758,"v":0.60},{"w":8763,"v":0.48},
      {"w":8768,"v":1.2},{"w":8774,"v":1.2},{"w":8778,"v":0.26},{"w":8783,"v":0.255},{"w":8787,"v":0.67},{"w":8794,"v":0.245},{"w":8800,"v":0.26},{"w":8805,"v":0.33},{"w":8810,"v":0.255},{"w":8818,"v":1.2},
      {"w":8823,"v":0.48},{"w":8828,"v":1.2},{"w":8833,"v":1.2},{"w":8838,"v":0.365},{"w":8844,"v":0.59},{"w":8849,"v":0.26},{"w":8856,"v":0.27},{"w":8862,"v":0.84},{"w":8869,"v":0.26},{"w":8874,"v":0.305},
      {"w":8881,"v":1.2},{"w":8885,"v":0.33},{"w":8890,"v":1.2},{"w":8895,"v":0.33},{"w":8900,"v":1.2},{"w":8907,"v":0.355},{"w":8913,"v":1.2},{"w":8918,"v":0.365},{"w":8924,"v":0.285},{"w":8931,"v":0.305},
      {"w":8939,"v":1.2},{"w":8944,"v":0.27},{"w":8948,"v":1.2},{"w":8954,"v":1.2},{"w":8960,"v":0.295},{"w":8967,"v":0.34},{"w":8973,"v":0.33},{"w":8978,"v":0.37},{"w":8985,"v":1.2},{"w":8991,"v":1.2},
      {"w":8998,"v":1.2},{"w":9003,"v":0.285},{"w":9009,"v":0.295},{"w":9016,"v":0.325},{"w":9022,"v":0.30},{"w":9032,"v":0.61},{"w":9037,"v":0.305},{"w":9044,"v":0.79},{"w":9050,"v":0.29},{"w":9057,"v":0.295},
      {"w":9063,"v":0.34},{"w":9070,"v":0.285},{"w":9078,"v":0.285},{"w":9083,"v":0.295},{"w":9087,"v":0.50},{"w":9091,"v":0.32},{"w":9097,"v":0.59},{"w":9102,"v":0.285},{"w":9110,"v":0.28},{"w":9120,"v":0.28},
      {"w":9130,"v":0.29},{"w":9136,"v":0.28},{"w":9146,"v":0.445},{"w":9149,"v":0.36},{"w":9154,"v":0.49},{"w":9161,"v":0.295},{"w":9169,"v":0.285},{"w":9182,"v":0.285},{"w":9195,"v":0.29},{"w":9205,"v":0.305},
      {"w":9210,"v":0.41},{"w":9214,"v":0.36},{"w":9220,"v":0.435},{"w":9226,"v":0.305},{"w":9234,"v":0.29},{"w":9244,"v":0.36},{"w":9248,"v":0.305},{"w":9257,"v":0.32},{"w":9263,"v":0.295},{"w":9273,"v":0.30},
      {"w":9280,"v":0.435},{"w":9286,"v":0.40},{"w":9289,"v":0.445},{"w":9294,"v":0.355},{"w":9298,"v":0.36}
    ]
  },
  "layer": [
    {
      "data": {"values": [{}]},
      "mark": {"type": "rule", "color": "#0000ff", "strokeWidth": 6},
      "encoding": {"y": {"datum": 0, "type": "quantitative"}}
    },
    {
      "data": {"name": "err"},
      "mark": {"type": "line", "color": "#008000", "strokeWidth": 1.4, "clip": true},
      "encoding": {
        "x": {"field": "w", "type": "quantitative"},
        "y": {"field": "v", "type": "quantitative"}
      }
    },
    {
      "data": {"name": "flux"},
      "mark": {"type": "line", "color": "black", "strokeWidth": 4.2, "clip": true},
      "encoding": {
        "x": {
          "field": "w",
          "type": "quantitative",
          "scale": {"domain": [4751, 9300], "nice": false, "zero": false},
          "axis": {
            "values": [5000, 6000, 7000, 8000, 9000],
            "format": "d",
            "labelFontSize": 27,
            "labelPadding": 12,
            "title": "Wavelength",
            "titleFontSize": 31,
            "titleBaseline": "alphabetic",
            "titleX": 1162,
            "titleY": 85
          }
        },
        "y": {
          "field": "v",
          "type": "quantitative",
          "scale": {"domain": [-0.914, 0.868], "nice": false, "zero": false},
          "axis": {
            "values": [-0.8, -0.6, -0.4, -0.2, 0, 0.2, 0.4, 0.6, 0.8],
            "labelExpr": "replace(format(datum.value, '.1f'), '-', '\u2212')",
            "labelFontSize": 35,
            "labelPadding": 14,
            "title": "10\u207b\u00b9\u2078 erg s\u207b\u00b9 cm\u207b\u00b2 \u00c5\u207b\u00b9",
            "titleFontSize": 49,
            "titleAngle": 270,
            "titleBaseline": "alphabetic",
            "titleAlign": "center",
            "titleX": -150,
            "titleY": 346
          }
        }
      }
    }
  ],
  "config": {
    "font": "DejaVu Sans",
    "view": {"stroke": "black", "strokeWidth": 3.3},
    "axis": {
      "grid": false,
      "domainColor": "black",
      "domainWidth": 3.3,
      "tickColor": "black",
      "tickWidth": 3.3,
      "tickSize": 14.6,
      "labelColor": "black",
      "titleColor": "black",
      "labelFont": "DejaVu Sans",
      "titleFont": "DejaVu Sans",
      "titleFontWeight": "normal",
      "labelOverlap": false,
      "labelFlush": false
    }
  }
}
